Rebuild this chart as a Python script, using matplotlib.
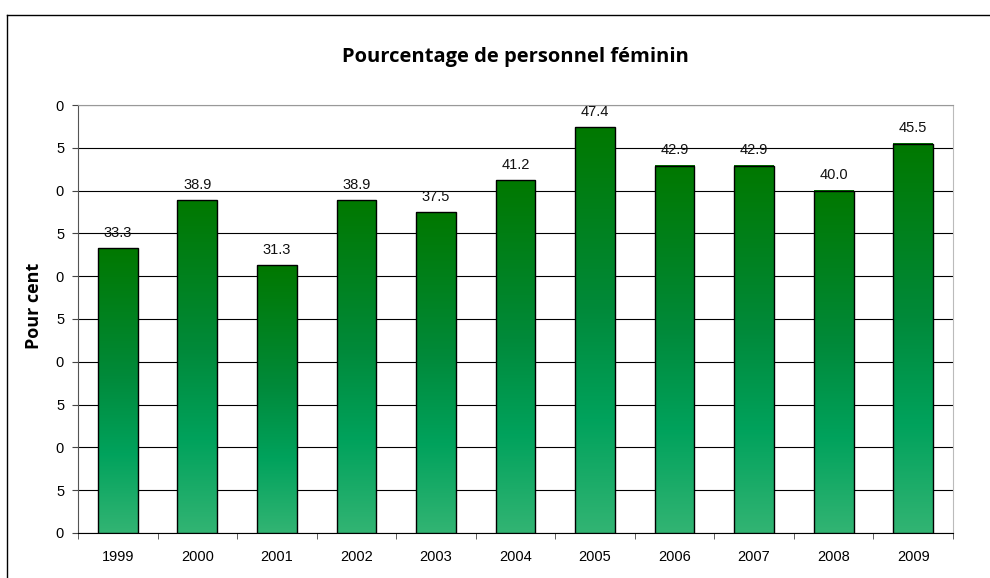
import numpy as np
import matplotlib
matplotlib.use('Agg')
import matplotlib.pyplot as plt
from matplotlib.colors import LinearSegmentedColormap
from matplotlib.lines import Line2D

years = ['1999', '2000', '2001', '2002', '2003', '2004', '2005', '2006', '2007', '2008', '2009']
values = [33.3, 38.9, 31.3, 38.9, 37.5, 41.2, 47.4, 42.9, 42.9, 40.0, 45.5]
yticks = [0, 5, 10, 15, 20, 25, 30, 35, 40, 45, 50]
# the source chart clips the tick labels to the last digit
ytick_labels = [str(v)[-1] for v in yticks]

title = 'Pourcentage de personnel féminin'
ylabel = 'Pour cent'

fig = plt.figure(figsize=(9.9, 5.78), dpi=100)
ax = fig.add_axes([0.0788, 0.078, 0.8838, 0.7403])

cmap = LinearSegmentedColormap.from_list(
    'grn', [(0.0, '#007800'), (0.45, '#008a3a'), (0.72, '#00a25c'), (1.0, '#32b473')])
grad = np.linspace(0, 1, 256).reshape(-1, 1)

x = np.arange(len(years))
w = 0.5
for xi, v in zip(x, values):
    ax.imshow(grad, cmap=cmap, aspect='auto', extent=(xi - w / 2, xi + w / 2, 0, v),
              origin='upper', zorder=3, interpolation='bilinear')
ax.bar(x, values, width=w, facecolor='none', edgecolor='black', linewidth=1.0, zorder=4)

for xi, v in zip(x, values):
    ax.annotate('%.1f' % v, (xi, v), xytext=(0, 6), textcoords='offset points',
                ha='center', va='bottom', fontsize=10.5, family='Liberation Sans', color='#111111')

ax.set_xlim(-0.5, len(years) - 0.5)
ax.set_ylim(0, 50)
ax.set_yticks(yticks)
ax.set_yticklabels(ytick_labels, family='Liberation Sans', fontsize=10.5)
ax.yaxis.grid(True, color='black', linewidth=0.8)
ax.set_axisbelow(True)

ax.set_xticks(x)
ax.set_xticklabels(years, family='Liberation Sans', fontsize=10.5)
ax.set_xticks(np.arange(-0.5, len(years)), minor=True)
ax.tick_params(axis='x', which='major', length=0, pad=12)
ax.tick_params(axis='x', which='minor', length=4, direction='out', color='#444444')
ax.tick_params(axis='y', length=4, direction='out', color='#444444', pad=6)

ax.spines['left'].set_color('#555555')
ax.spines['bottom'].set_color('black')
ax.spines['top'].set_color('#999999')
ax.spines['right'].set_color('#bbbbbb')

fig.text(0.521, 0.901, title, ha='center', va='center', fontsize=14.5,
         fontweight='bold', family='Open Sans')
fig.text(0.034, 0.470, ylabel, ha='center', va='center', rotation=90, fontsize=13,
         fontweight='bold', family='Open Sans')

# outer frame of the chart object
fig.add_artist(Line2D([7 / 990, 1.0], [1 - 15 / 578, 1 - 15 / 578], color='black', lw=1.0))
fig.add_artist(Line2D([7 / 990, 7 / 990], [0, 1 - 15 / 578], color='black', lw=1.0))

fig.savefig('out.png', dpi=100)
